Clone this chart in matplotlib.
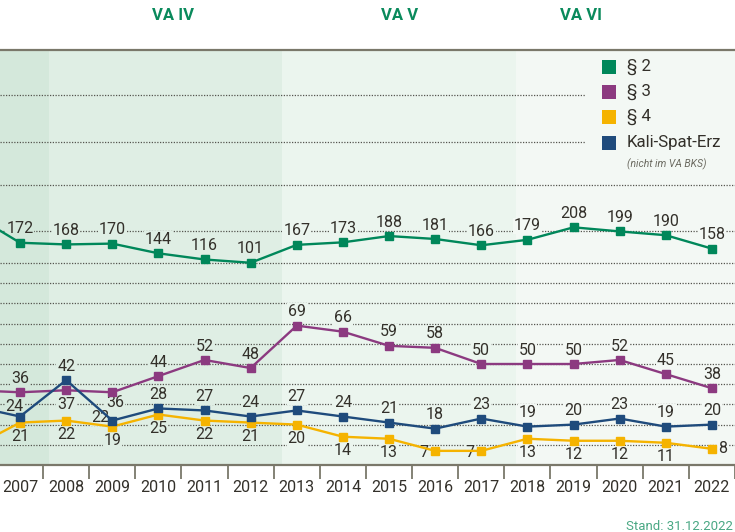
import numpy as np
import matplotlib
matplotlib.use('Agg')
import matplotlib.pyplot as plt
from matplotlib.patches import Rectangle
from matplotlib.ticker import FixedLocator, NullLocator

# data (2006 point lies just outside the visible range)
years = [2006, 2007, 2008, 2009, 2010, 2011, 2012, 2013, 2014,
         2015, 2016, 2017, 2018, 2019, 2020, 2021, 2022]
par2 = [235, 172, 168, 170, 144, 116, 101, 167, 173, 188, 181, 166, 179, 208, 199, 190, 158]
par3 = [37, 36, 37, 36, 44, 52, 48, 69, 66, 59, 58, 50, 50, 50, 52, 45, 38]
par4 = [9, 21, 22, 19, 25, 22, 21, 20, 14, 13, 7, 7, 13, 12, 12, 11, 8]
kali = [29, 24, 42, 22, 28, 27, 24, 27, 24, 21, 18, 23, 19, 20, 23, 19, 20]

series_names = ['§ 2', '§ 3', '§ 4', 'Kali-Spat-Erz']
periods = ['VA IV', 'VA V', 'VA VI']
period_label_x = [2010.32, 2015.22, 2019.16]
band_edges = [2006.0, 2007.63, 2012.68, 2017.75, 2022.6]
grid_values = [10, 20, 30, 40, 50, 60, 70, 80, 90, 100, 200, 300, 400, 500]

# label placement per point (2007..2022)
pos2 = ['a'] * 16
pos3 = ['a', 'b', 'bs'] + ['a'] * 13
pos4 = ['b'] * 9 + ['l', 'l'] + ['b'] * 4 + ['r']
posk = ['al', 'a', 'lu'] + ['a'] * 13

# styling
plt.rcParams['font.family'] = ['Roboto', 'DejaVu Sans']
colors = ['#00875a', '#8c3a80', '#f5b300', '#1f4b7c']
band_colors = ['#d4e8db', '#dfeee4', '#ebf5ee', '#f3f8f4']
text_col = '#33302a'
axis_col = '#7a786a'
offsets = {'a': (0, 10), 'b': (0, -10), 'bs': (2, -7.5), 'l': (-8, -1), 'r': (7.5, 0.5),
           'lu': (-8.5, 2), 'al': (-4, 7)}

# broken value axis: value -> pixel height above the bottom axis
scale_v = [0, 100, 150, 200, 300, 400, 500, 600]
scale_p = [0, 202, 213, 234, 280, 323, 370, 415]


def fwd(v):
    return np.interp(v, scale_v, scale_p)


def inv(p):
    return np.interp(p, scale_p, scale_v)


def band_color(x):
    for i in range(len(band_colors)):
        if band_edges[i] <= x < band_edges[i + 1]:
            return band_colors[i]
    return band_colors[-1]


fig = plt.figure(figsize=(7.35, 5.32), dpi=100)
ax = fig.add_axes([0, 1 - 465 / 532, 1, 415 / 532])
ax.set_yscale('function', functions=(fwd, inv))
ax.set_xlim(2006.566, 2022.5)
ax.set_ylim(0, 600)
ax.set_axisbelow(True)

# background bands
for i in range(len(band_colors)):
    ax.axvspan(band_edges[i], band_edges[i + 1], color=band_colors[i], lw=0, zorder=0.1)

# grid
ax.yaxis.set_major_locator(FixedLocator(grid_values))
ax.yaxis.set_minor_locator(NullLocator())
ax.tick_params(axis='y', length=0, labelleft=False)
ax.grid(axis='y', linestyle=(0, (1, 1.2)), color='#55554f', lw=0.9)

# spines
for s in ['left', 'right']:
    ax.spines[s].set_visible(False)
for s in ['top', 'bottom']:
    ax.spines[s].set_color(axis_col)
    ax.spines[s].set_linewidth(1.6)

# x ticks: labels at years, marks between years
ax.set_xticks(years[1:])
ax.set_xticklabels([str(y) for y in years[1:]], fontsize=11.5, color=text_col)
ax.set_xticks(np.arange(2007.5, 2023, 1.0), minor=True)
ax.tick_params(axis='x', which='major', length=0, pad=11)
ax.tick_params(axis='x', which='minor', length=10, width=1.3, color=axis_col, direction='out')

# lines
all_series = [par2, par3, par4, kali]
all_pos = [pos2, pos3, pos4, posk]
for vals, col, name in zip(all_series, colors, series_names):
    ax.plot(years, vals, color=col, lw=1.7, marker='s', ms=5.8, zorder=3,
            solid_joinstyle='round', label=name)

# value labels
for vals, places in zip(all_series, all_pos):
    for yr, v, p in zip(years[1:], vals[1:], places):
        ax.annotate(str(v), (yr, v), xytext=offsets[p], textcoords='offset points',
                    ha='center', va='center', fontsize=11.5, color=text_col, zorder=2,
                    bbox=dict(boxstyle='square,pad=0.05', fc=band_color(yr), ec='none'))

# period headers
for lab, x in zip(periods, period_label_x):
    ax.text(x, (465 - 16) / 415, lab, transform=ax.get_xaxis_transform(), ha='center',
            va='center', fontsize=12, fontweight='bold', color='#0a8a5c')

# legend drawn by hand
bg = Rectangle((586 / 735, 1 - 175 / 532), 149 / 735, 125 / 532,
               transform=fig.transFigure, fc=band_colors[-1], ec='none', zorder=0.8)
ax.add_artist(bg)
row_y = [67, 92, 117, 143]
for name, col, yy in zip(series_names, colors, row_y):
    sq = Rectangle((602 / 735, 1 - (yy + 7) / 532), 14 / 735, 14 / 532,
                   transform=fig.transFigure, fc=col, ec='none', clip_on=False, zorder=4)
    ax.add_artist(sq)
    fig.text(627 / 735, 1 - yy / 532, name, ha='left', va='center', fontsize=12.2, color=text_col)
fig.text(627 / 735, 1 - 164 / 532, '(nicht im VA BKS)', ha='left', va='center',
         fontsize=7.5, style='italic', color='#6b6a60')

fig.text(733 / 735, 1 - 526 / 532, 'Stand: 31.12.2022', ha='right', va='center',
         fontsize=9.5, color='#4aa884')

fig.savefig('out.png', dpi=100)
